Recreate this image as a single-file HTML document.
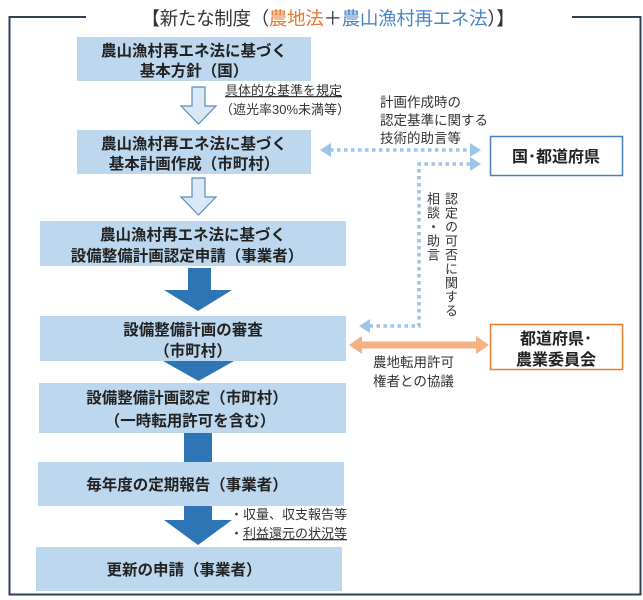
<!DOCTYPE html>
<html><head><meta charset="utf-8"><style>
html,body{margin:0;padding:0;background:#fff;}
body{width:643px;height:600px;position:relative;overflow:hidden;font-family:"Liberation Sans","Noto Sans CJK JP",sans-serif;}
svg{position:absolute;left:0;top:0;}
.vt{position:absolute;writing-mode:vertical-rl;font-size:13px;color:#333;line-height:14px;letter-spacing:1px;font-family:"Liberation Sans","Noto Sans CJK JP",sans-serif;}
</style></head><body>
<svg width="643" height="600" viewBox="0 0 643 600" font-family="Liberation Sans, Noto Sans CJK JP, sans-serif">
<path d="M86 17 H9.5 V594.5 H640.5 V17 H572" fill="none" stroke="#2f3e5a" stroke-width="2"/>
<text x="328" y="25" text-anchor="middle" font-size="18.5" fill="#333" letter-spacing="-0.3">【新たな制度（<tspan fill="#e8782e">農地法</tspan>＋<tspan fill="#4a86c8">農山漁村再エネ法</tspan>）】</text>
<g fill="#bdd7ee">
<rect x="77" y="37" width="234" height="44"/>
<rect x="77" y="130" width="234" height="44"/>
<rect x="40" y="221" width="306" height="45"/>
<rect x="40" y="316" width="306" height="45"/>
<rect x="39" y="383" width="307" height="50"/>
<rect x="38" y="462" width="306" height="44"/>
<rect x="36" y="547" width="306" height="44"/>
</g>
<g font-size="15.5" font-weight="bold" fill="#222" text-anchor="middle">
<text x="194" y="56">農山漁村再エネ法に基づく</text>
<text x="194" y="76">基本方針（国）</text>
<text x="194" y="149">農山漁村再エネ法に基づく</text>
<text x="194" y="169">基本計画作成（市町村）</text>
<text x="193" y="240">農山漁村再エネ法に基づく</text>
<text x="187" y="261">設備整備計画認定申請（事業者）</text>
<text x="193" y="335">設備整備計画の審査</text>
<text x="193" y="356">（市町村）</text>
<text x="187" y="403">設備整備計画認定（市町村）</text>
<text x="190" y="426">（一時転用許可を含む）</text>
<text x="187" y="490">毎年度の定期報告（事業者）</text>
<text x="184" y="575">更新の申請（事業者）</text>
</g>
<g fill="#dae8f5" stroke="#5b8bc0" stroke-width="1.2">
<path d="M192 87 H205 V106 H216 L198.5 124 L181 106 H192 Z"/>
<path d="M192 178 H205 V197 H216 L198.5 215 L181 197 H192 Z"/>
</g>
<g fill="#2e75b6">
<path d="M188 268 H211 V290 H232 L198 311 L164 290 H188 Z"/>
<path d="M163 361 H234 L198.5 381 Z"/>
<rect x="184" y="433" width="28" height="29"/>
<path d="M184 506 H212 V520 H232 L198 545 L164 520 H184 Z"/>
</g>
<g font-size="13" fill="#333">
<text x="225" y="95" text-decoration="underline">具体的な基準を規定</text>
<text x="220" y="114">（遮光率30%未満等）</text>
<text x="380" y="107" font-size="13.5">計画作成時の</text>
<text x="380" y="125" font-size="13.5">認定基準に関する</text>
<text x="380" y="143" font-size="13.5">技術的助言等</text>
<text x="373" y="367" font-size="13.5">農地転用許可</text>
<text x="373" y="386" font-size="13.5">権者との協議</text>
<text x="230" y="519">・収量、収支報告等</text>
<text x="230" y="538">・<tspan text-decoration="underline">利益還元の状況等</tspan></text>
</g>
<g stroke="#9dc3e6" stroke-width="3.5" stroke-dasharray="3.5 3.5" fill="none">
<path d="M330 150 H470"/>
<path d="M470 164 H419 V326 H370"/>
</g>
<g fill="#9dc3e6">
<path d="M320 150 L331 143 V157 Z"/>
<path d="M481 150 L470 143 V157 Z"/>
<path d="M481 164 L470 157 V171 Z"/>
<path d="M359 326 L370 319 V333 Z"/>
</g>
<path d="M362 341.5 H476 V336 L489 345 L476 354 V348.5 H362 V354 L349 345 L362 336 Z" fill="#f4b183"/>
<rect x="490.5" y="136.5" width="132" height="39" fill="#fff" stroke="#4a7fc0" stroke-width="1.5"/>
<text x="556" y="162" text-anchor="middle" font-size="16" font-weight="bold" fill="#222">国･都道府県</text>
<rect x="490.5" y="324.5" width="132" height="45" fill="#fff" stroke="#ed7d31" stroke-width="1.5"/>
<text x="556" y="344" text-anchor="middle" font-size="16" font-weight="bold" fill="#222">都道府県･</text>
<text x="556" y="365" text-anchor="middle" font-size="16" font-weight="bold" fill="#222">農業委員会</text>
</svg>
<div class="vt" style="left:443px;top:192px;">認定の可否に関する</div>
<div class="vt" style="left:425px;top:192px;">相談・助言</div>
</body></html>
